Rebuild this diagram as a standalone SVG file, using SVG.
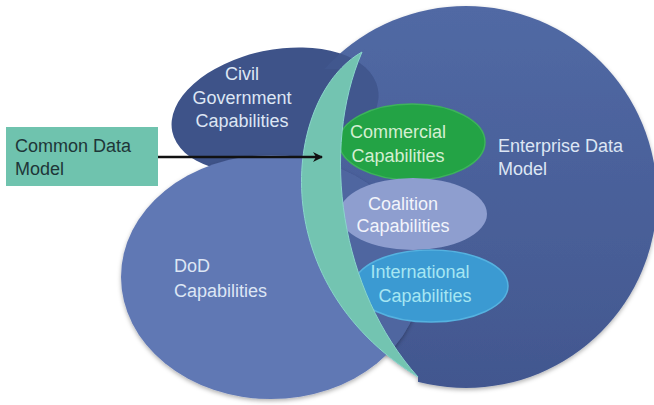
<svg xmlns="http://www.w3.org/2000/svg" width="654" height="405" viewBox="0 0 654 405">
  <defs>
    <linearGradient id="gradEnterprise" x1="0" y1="0" x2="0" y2="1">
      <stop offset="0" stop-color="#5169a4"/>
      <stop offset="1" stop-color="#42578f"/>
    </linearGradient>
    <filter id="softShadow" x="-10%" y="-10%" width="120%" height="125%">
      <feDropShadow dx="0" dy="2" stdDeviation="2" flood-color="#000" flood-opacity="0.3"/>
    </filter>
    <!-- area to the right of the crescent's outer edge, plus a strip above its tip -->
    <clipPath id="clipRight">
      <path d="M362,52 C285,95 260,280 418,377 L418,405 L654,405 L654,0 L300,0 L300,69 L341,69 Z"/>
    </clipPath>
    <clipPath id="clipDod">
      <ellipse cx="271" cy="277" rx="150" ry="122"/>
    </clipPath>
    <clipPath id="clipCivil">
      <ellipse cx="275" cy="110" rx="105" ry="60" transform="rotate(-12 275 110)"/>
    </clipPath>
    <marker id="arrowHead" viewBox="0 0 10 10" refX="9" refY="5" markerWidth="4" markerHeight="4" orient="auto" markerUnits="strokeWidth">
      <path d="M0,0 L10,5 L0,10 L3,5 Z" fill="#111"/>
    </marker>
  </defs>
  <style>
    text { font-family: "Liberation Sans", Arial, sans-serif; font-size: 18px; }
    .label-light { fill: #dde6f4; }
    .mid { text-anchor: middle; }
  </style>

  <!-- Enterprise data model: large backdrop circle, its left edge tucked under the crescent -->
  <g id="enterprise" filter="url(#softShadow)">
    <circle cx="466" cy="197" r="191" fill="url(#gradEnterprise)" clip-path="url(#clipRight)"/>
  </g>

  <!-- Civil government ellipse -->
  <g id="civil">
    <ellipse cx="275" cy="110" rx="105" ry="60" transform="rotate(-12 275 110)" fill="#3e5389"/>
    <g clip-path="url(#clipRight)">
      <circle cx="466" cy="197" r="191" fill="#4a63a0" fill-opacity="0.25" clip-path="url(#clipCivil)"/>
    </g>
  </g>

  <!-- DoD ellipse, blended where it sits over the enterprise circle -->
  <g id="dod">
    <ellipse cx="271" cy="277" rx="150" ry="122" fill="#6178b4" filter="url(#softShadow)"/>
    <g clip-path="url(#clipRight)">
      <circle cx="466" cy="197" r="191" fill="#42578f" fill-opacity="0.55" clip-path="url(#clipDod)"/>
    </g>
  </g>

  <!-- Capability ellipses inside the enterprise circle -->
  <g id="commercial">
    <ellipse cx="412" cy="142" rx="73" ry="38" fill="#23a345" stroke="#3db45a" stroke-width="1.5"/>
  </g>
  <g id="coalition">
    <ellipse cx="413" cy="214" rx="74" ry="36" fill="#8e9ecf"/>
  </g>
  <g id="international">
    <ellipse cx="431" cy="286" rx="77" ry="36" fill="#3b9ad2" stroke="#55b2e0" stroke-width="1.5"/>
  </g>

  <!-- Crescent band -->
  <g id="crescent">
    <path d="M362,52 C285,95 260,280 418,377 C340,290 320,150 362,52 Z" fill="#73c4b1" stroke="#8ad6cc" stroke-width="1"/>
  </g>

  <!-- Common data model box -->
  <g id="common-data-model">
    <rect x="6" y="127" width="152" height="59" fill="#6fc3ae"/>
    <text x="15" y="152" fill="#1e3638">Common Data</text>
    <text x="15" y="175" fill="#1e3638">Model</text>
  </g>

  <!-- Connectors -->
  <g id="connectors">
    <line x1="158" y1="157" x2="322" y2="157" stroke="#111" stroke-width="2.5" marker-end="url(#arrowHead)"/>
  </g>

  <!-- Labels -->
  <g id="labels">
    <text class="label-light mid" x="242" y="80">Civil</text>
    <text class="label-light mid" x="242" y="104">Government</text>
    <text class="label-light mid" x="242" y="127">Capabilities</text>

    <text class="label-light" x="174" y="272">DoD</text>
    <text class="label-light" x="174" y="297">Capabilities</text>

    <text class="label-light" x="498" y="152">Enterprise Data</text>
    <text class="label-light" x="498" y="175">Model</text>

    <text class="mid" x="398" y="138" fill="#d4efd2">Commercial</text>
    <text class="mid" x="398" y="162" fill="#d4efd2">Capabilities</text>

    <text class="mid" x="403" y="210" fill="#f2f4fb">Coalition</text>
    <text class="mid" x="403" y="232" fill="#f2f4fb">Capabilities</text>

    <text class="mid" x="420" y="278" fill="#a6e6f2">International</text>
    <text class="mid" x="425" y="302" fill="#a6e6f2">Capabilities</text>
  </g>
</svg>
